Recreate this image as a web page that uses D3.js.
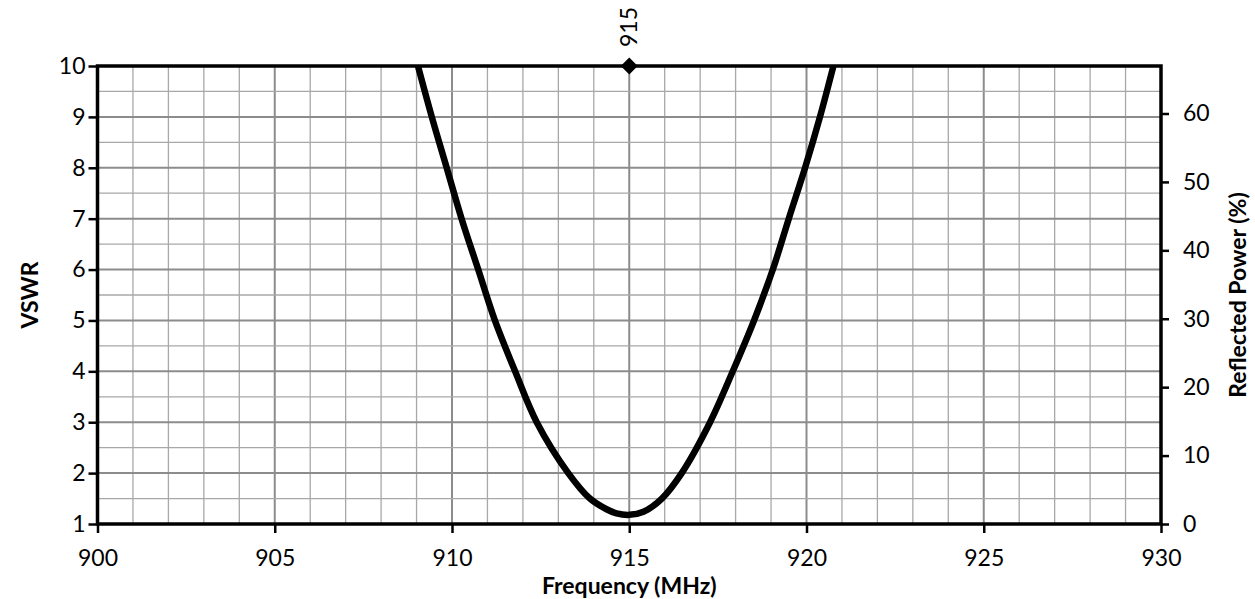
<!DOCTYPE html>
<html>
<head>
<meta charset="utf-8">
<script src="https://cdn.jsdelivr.net/npm/d3@7"></script>
<style>
  body { margin: 0; background: #fff; }
  svg text { font-family: Lato, "Open Sans", sans-serif; fill: #000; }
  .tick text { font-size: 23px; }
  .axis-labels { font-size: 23px; font-weight: bold; }
</style>
</head>
<body>
<svg id="chart" width="1255" height="599"></svg>
<script>
"use strict";

// curve
const freqMHz = [909.04, 909.43, 909.85, 910.27, 910.74, 911.21, 911.78, 912.39, 913.28, 913.89,
                 914.36, 914.64, 915.0, 915.4, 915.92, 916.48, 917.28, 917.92, 918.52, 919.05,
                 919.5, 919.96, 920.38, 920.76];
const vswr = [10, 9, 8, 7, 6, 5, 4, 3, 2, 1.5,
              1.29, 1.21, 1.18, 1.24, 1.5, 2, 3, 4, 5, 6,
              7, 8, 9, 10];
const xTicks = [900, 905, 910, 915, 920, 925, 930];
const vswrTicks = [1, 2, 3, 4, 5, 6, 7, 8, 9, 10];
const powerTicks = [0, 10, 20, 30, 40, 50, 60];
const markerFreq = 915;
const markerVswr = 10;

const plot = { left: 97.5, right: 1161, top: 66, bottom: 524 };
const svg = d3.select("#chart");

const x = d3.scaleLinear().domain([900, 930]).range([plot.left, plot.right]);
const y = d3.scaleLinear().domain([1, 10]).range([plot.bottom, plot.top]);
// reflected power at VSWR 10 = ((10-1)/(10+1))^2
const pMax = Math.pow(9 / 11, 2) * 100;
const yPower = d3.scaleLinear().domain([0, pMax]).range([plot.bottom, plot.top]);

// grid
const grid = svg.append("g");
d3.range(900, 931, 1).forEach(f => {
    let major = f % 5 == 0;
    grid.append("line")
        .attr("x1", x(f)).attr("x2", x(f))
        .attr("y1", plot.top).attr("y2", plot.bottom)
        .attr("stroke", major ? "#8c8c8c" : "#a8a8a8")
        .attr("stroke-width", major ? 2 : 1.3);
});
d3.range(1, 10.01, 0.5).forEach(v => {
    let major = v % 1 == 0;
    grid.append("line")
        .attr("x1", plot.left).attr("x2", plot.right)
        .attr("y1", y(v)).attr("y2", y(v))
        .attr("stroke", major ? "#8c8c8c" : "#a8a8a8")
        .attr("stroke-width", major ? 2 : 1.3);
});

// axes
const xAxis = svg.append("g")
    .attr("transform", `translate(0, ${plot.bottom})`)
    .call(d3.axisBottom(x).tickValues(xTicks).tickFormat(d3.format("d"))
        .tickSize(9).tickSizeOuter(0).tickPadding(17));
const yAxis = svg.append("g")
    .attr("transform", `translate(${plot.left}, 0)`)
    .call(d3.axisLeft(y).tickValues(vswrTicks).tickFormat(d3.format("d"))
        .tickSize(9).tickSizeOuter(0).tickPadding(3));
const pAxis = svg.append("g")
    .attr("transform", `translate(${plot.right}, 0)`)
    .call(d3.axisRight(yPower).tickValues(powerTicks).tickFormat(d3.format("d"))
        .tickSize(8).tickSizeOuter(0).tickPadding(14));
[xAxis, yAxis, pAxis].forEach(a => {
    a.selectAll(".domain").remove();
    a.selectAll(".tick line").attr("stroke", "#000").attr("stroke-width", 2.5);
    a.selectAll(".tick text").attr("fill", "#000");
});

// frame
svg.append("rect")
    .attr("x", plot.left).attr("y", plot.top)
    .attr("width", plot.right - plot.left).attr("height", plot.bottom - plot.top)
    .attr("fill", "none").attr("stroke", "#000").attr("stroke-width", 3.5);

// curve
svg.append("defs").append("clipPath").attr("id", "clip")
    .append("rect")
    .attr("x", plot.left).attr("y", plot.top)
    .attr("width", plot.right - plot.left).attr("height", plot.bottom - plot.top);

const line = d3.line()
    .x((d, i) => x(freqMHz[i]))
    .y(d => y(d))
    .curve(d3.curveCatmullRom.alpha(0.5));
svg.append("path")
    .attr("clip-path", "url(#clip)")
    .attr("d", line(vswr))
    .attr("fill", "none")
    .attr("stroke", "#000")
    .attr("stroke-width", 6.5)
    .attr("stroke-linejoin", "round");

// marker at 915
svg.append("path")
    .attr("d", d3.symbol().type(d3.symbolDiamond2).size(185)())
    .attr("transform", `translate(${x(markerFreq)}, ${y(markerVswr)})`)
    .attr("fill", "#000");
svg.append("text")
    .attr("transform", `translate(${x(markerFreq) + 8}, ${y(markerVswr) - 19}) rotate(-90)`)
    .style("font-size", "23px")
    .text(markerFreq);

// axis titles
svg.append("text")
    .attr("class", "axis-labels")
    .attr("x", (plot.left + plot.right) / 2)
    .attr("y", 594)
    .attr("text-anchor", "middle")
    .text("Frequency (MHz)");
svg.append("text")
    .attr("class", "axis-labels")
    .attr("text-anchor", "middle")
    .attr("transform", `translate(38, ${(plot.top + plot.bottom) / 2}) rotate(-90)`)
    .text("VSWR");
svg.append("text")
    .attr("class", "axis-labels")
    .attr("text-anchor", "middle")
    .attr("transform", `translate(1246, ${(plot.top + plot.bottom) / 2}) rotate(-90)`)
    .text("Reflected Power (%)");
</script>
</body>
</html>
